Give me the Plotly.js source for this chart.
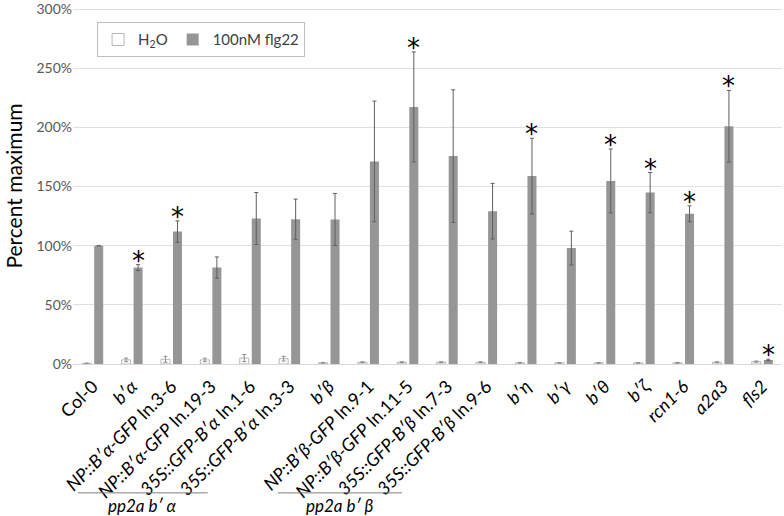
<!DOCTYPE html>
<html>
<head>
<meta charset="utf-8">
<script src="https://cdn.plot.ly/plotly-3.0.1.min.js"></script>
<style>html,body{margin:0;padding:0;background:#fff;}#chart{width:784px;height:516px;}</style>
</head>
<body>
<div id="chart"></div>
<script>
const categories = ["Col-0","b'α","NP::B'α-GFP ln.3-6","NP::B'α-GFP ln.19-3","35S::GFP-B'α ln.1-6","35S::GFP-B'α ln.3-3","b'β","NP::B'β-GFP ln.9-1","NP::B'β-GFP ln.11-5","35S::GFP-B'β ln.7-3","35S::GFP-B'β ln.9-6","b'η","b'γ","b'θ","b'ζ","rcn1-6","a2a3","fls2"];
const tickLabels = ["Col-0","<i>b′α</i>","<i>NP::B′α-GFP</i> ln.3-6","<i>NP::B′α-GFP</i> ln.19-3","<i>35S::GFP-B′α</i> ln.1-6","<i>35S::GFP-B′α</i> ln.3-3","<i>b′β</i>","<i>NP::B′β-GFP</i> ln.9-1","<i>NP::B′β-GFP</i> ln.11-5","<i>35S::GFP-B′β</i> ln.7-3","<i>35S::GFP-B′β</i> ln.9-6","<i>b′η</i>","<i>b′γ</i>","<i>b′θ</i>","<i>b′ζ</i>","<i>rcn1-6</i>","<i>a2a3</i>","<i>fls2</i>"];
const yTicks = [0,50,100,150,200,250,300];
const h2o = [0.5,3.5,4,3.5,5,4.5,1,1.5,1.5,1.5,1.5,1,1,1,1,1,1.5,2];
const h2oErr = [0.3,1.5,2.5,1.5,3,2,0.3,0.4,0.4,0.4,0.4,0.3,0.3,0.3,0.3,0.3,0.4,0.5];
const flg22 = [100,81.5,112,81.5,123,122.4,122.2,171.3,217.4,175.8,129.2,158.9,98,154.8,144.9,127,201,3.4];
const flg22Err = [0,2.5,9,9,22,17,22,51,46.5,56,23.5,32,14.3,27,17,6.7,30.3,0.6];
const significant = [false,true,true,false,false,false,false,false,true,false,false,true,false,true,true,true,true,true];
const groups = [{label:"<i>pp2a b′ α</i>", x0:0.007, x1:0.19}, {label:"<i>pp2a b′ β</i>", x0:0.289, x1:0.464}];

const FONT = "Lato, 'Open Sans', 'DejaVu Sans', sans-serif";

const traces = [
  {type:'bar', name:'H<sub>2</sub>O', x:categories, y:h2o,
   marker:{color:'#ffffff', line:{color:'#a6a6a6', width:0.8}},
   error_y:{type:'data', array:h2oErr, visible:true, color:'#8c8c8c', thickness:1, width:2}},
  {type:'bar', name:'100nM flg22', x:categories, y:flg22,
   marker:{color:'#969696', line:{width:0}},
   error_y:{type:'data', array:flg22Err, visible:true, color:'#5f5f5f', thickness:1, width:2}}
];

const annotations = [];
categories.forEach((c,i)=>{
  if(significant[i]){
    annotations.push({x:c, y:flg22[i]+flg22Err[i], xref:'x', yref:'y', text:'*', showarrow:false,
      xanchor:'center', xshift:6, yshift:-13, yanchor:'bottom', font:{family:"'DejaVu Sans', sans-serif", size:26, color:'#000'}});
  }
});
const shapes = [];
groups.forEach(g=>{
  shapes.push({type:'line', xref:'paper', yref:'paper', x0:g.x0, x1:g.x1, y0:-0.362, y1:-0.362, line:{color:'#7f7f7f', width:1}});
  annotations.push({xref:'paper', yref:'paper', x:(g.x0+g.x1)/2, y:-0.398, xanchor:'center', yanchor:'middle', text:g.label, showarrow:false, font:{family:FONT, size:17, color:'#000'}});
});

const layout = {
  width:784, height:516,
  margin:{l:73, r:2, t:8, b:152},
  paper_bgcolor:'#fff', plot_bgcolor:'#fff',
  font:{family:FONT, color:'#404040'},
  barmode:'group', bargap:0.39, bargroupgap:0.25,
  showlegend:true,
  legend:{orientation:'h', x:0.034, y:0.96, xanchor:'left', yanchor:'top',
    bordercolor:'#bfbfbf', borderwidth:1, bgcolor:'#fff', itemwidth:30,
    font:{family:FONT, size:15, color:'#404040'}},
  xaxis:{type:'category', tickmode:'array', tickvals:categories, ticktext:tickLabels,
    tickangle:-45, tickfont:{family:FONT, size:18, color:'#000'}, ticklabelstandoff:4,
    showline:true, linecolor:'#d9d9d9', linewidth:1, showgrid:false, ticks:'', automargin:false},
  yaxis:{range:[0,301], tickmode:'array', tickvals:yTicks, ticktext:yTicks.map(v=>v+'%'),
    showgrid:true, gridcolor:'#e0e0e0', gridwidth:1,
    zeroline:false, tickfont:{family:FONT, size:14, color:'#595959'}, ticks:'',
    title:{text:'Percent maximum', font:{family:FONT, size:21, color:'#000'}, standoff:8}, automargin:false},
  annotations:annotations, shapes:shapes
};

Plotly.newPlot('chart', traces, layout, {displayModeBar:false, staticPlot:true});
</script>
</body>
</html>
